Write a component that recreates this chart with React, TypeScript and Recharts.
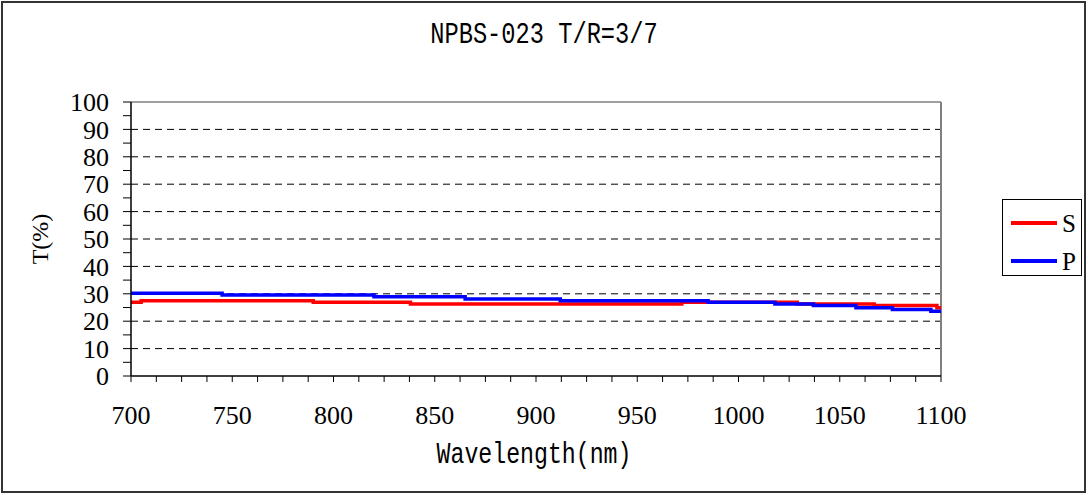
import { LineChart, Line, XAxis, YAxis, ReferenceLine } from 'recharts';

// S / P transmission (step changes, wavelength nm -> T %)
const sWave = [700, 705, 790, 838, 972, 1029, 1067, 1098, 1100];
const sT = [26.9, 27.5, 26.9, 26.3, 26.9, 26.3, 25.7, 24.9, 24.9];
const pWave = [700, 745, 820, 865, 912, 985, 1018, 1037, 1058, 1076, 1095, 1100];
const pT = [30.2, 29.6, 28.9, 28.1, 27.5, 26.9, 26.3, 25.7, 24.9, 24.3, 23.6, 23.6];

const xLabels = [700, 750, 800, 850, 900, 950, 1000, 1050, 1100];
const yLabels = [0, 10, 20, 30, 40, 50, 60, 70, 80, 90, 100];
const xMinor = Array.from({ length: 33 }, (_, i) => 700 + i * 12.5);
const yMinor = Array.from({ length: 21 }, (_, i) => i * 5);

const S_DATA = sWave.map((x, i) => ({ x, t: sT[i] }));
const P_DATA = pWave.map((x, i) => ({ x, t: pT[i] }));

const RED = '#ff0000';
const BLUE = '#0000ff';
const SERIF = '"Liberation Serif", "Times New Roman", serif';
const MONO = '"Liberation Mono", "DejaVu Sans Mono", monospace';
const tick = { fontFamily: SERIF, fontSize: 26, fill: '#000' };

function LegendBox() {
  return (
    <div style={{ position: 'absolute', left: 1002, top: 199, width: 80, height: 77, border: '1px solid #000', boxSizing: 'border-box', background: '#fff' }}>
      <svg width={78} height={75} style={{ position: 'absolute', left: 0, top: 0 }}>
        <line x1={8} x2={54} y1={23} y2={23} stroke={RED} strokeWidth={4} />
        <line x1={8} x2={54} y1={61} y2={61} stroke={BLUE} strokeWidth={4} />
        <text x={59} y={32} fontFamily={SERIF} fontSize={25} fill="#000">S</text>
        <text x={59} y={70} fontFamily={SERIF} fontSize={25} fill="#000">P</text>
      </svg>
    </div>
  );
}

export default function App() {
  return (
    <div style={{ position: 'absolute', left: 0, top: 0, width: 1088, height: 495, background: '#fff' }}>
      <LineChart width={1088} height={495} margin={{ top: 102, right: 147, bottom: 89, left: 71 }}>
        <XAxis type="number" dataKey="x" domain={[700, 1100]} ticks={xMinor} interval={0}
          tickFormatter={(v: number) => (xLabels.includes(v) ? String(v) : '')}
          tick={tick} tickSize={6} tickMargin={24} height={30}
          axisLine={{ stroke: '#000', strokeWidth: 1.5 }} tickLine={{ stroke: '#000' }} allowDataOverflow />
        <YAxis type="number" domain={[0, 100]} ticks={yMinor} interval={0} width={60}
          tickFormatter={(v: number) => (yLabels.includes(v) ? String(v) : '')}
          tick={tick} tickSize={8} tickMargin={14}
          axisLine={{ stroke: '#000', strokeWidth: 1.5 }} tickLine={{ stroke: '#000' }} />
        {yLabels.filter((v) => v > 0 && v < 100).map((v) => (
          <ReferenceLine key={v} y={v} stroke="#000" strokeDasharray="7 5" />
        ))}
        <ReferenceLine y={100} stroke="#808080" strokeWidth={1.5} />
        <ReferenceLine x={1100} stroke="#808080" strokeWidth={2} />
        <Line data={S_DATA} dataKey="t" name="S" type="stepAfter" stroke={RED} strokeWidth={3.5} dot={false} isAnimationActive={false} />
        <Line data={P_DATA} dataKey="t" name="P" type="stepAfter" stroke={BLUE} strokeWidth={3.5} dot={false} isAnimationActive={false} />
      </LineChart>
      <LegendBox />
      <svg width={1088} height={495} style={{ position: 'absolute', left: 0, top: 0, pointerEvents: 'none' }}>
        <rect x={2} y={2} width={1083} height={490} fill="none" stroke="#333" strokeWidth={2} />
        <text x={544} y={43} textAnchor="middle" fontFamily={MONO} fontSize={23.7} fill="#000"
          transform="translate(544 43) scale(1 1.24) translate(-544 -43)">NPBS-023 T/R=3/7</text>
        <text x={534} y={463} textAnchor="middle" fontFamily={MONO} fontSize={23.2} fill="#000"
          transform="translate(534 463) scale(1 1.3) translate(-534 -463)">Wavelength(nm)</text>
        <text x={48} y={239} textAnchor="middle" fontFamily={SERIF} fontSize={24} fill="#000"
          transform="rotate(-90 48 239)">T(%)</text>
      </svg>
    </div>
  );
}
